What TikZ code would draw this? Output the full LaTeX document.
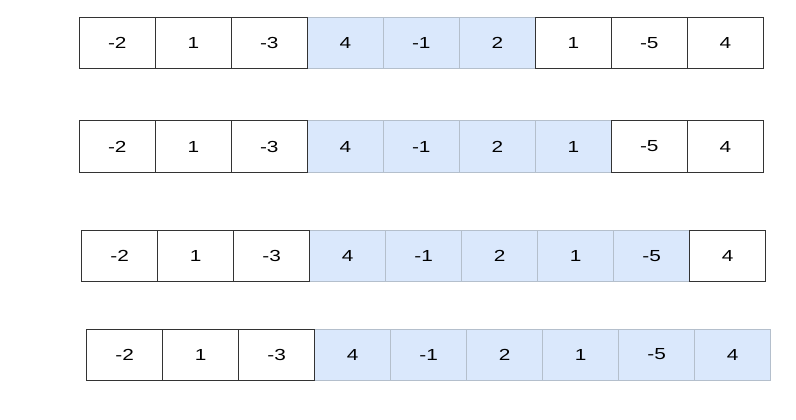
\documentclass[tikz,border=0pt]{standalone}
\usepackage{fontspec}
\setmainfont{Liberation Sans}
\newfontfamily\cellfont[FakeStretch=1.3]{Liberation Sans}
\definecolor{cellblue}{HTML}{DAE8FC}
\definecolor{celledge}{HTML}{333333}
\definecolor{bluedge}{HTML}{B4BFCC}
\tikzset{
  cell/.style={minimum width=76pt, minimum height=51pt, inner sep=0pt,
    font=\cellfont\fontsize{16}{19}\selectfont, line width=1pt},
  plaincell/.style={cell, draw=celledge, fill=white},
  bluecell/.style={cell, draw=bluedge, fill=cellblue}
}

\begin{document}
\begin{tikzpicture}[x=1pt,y=-1pt]

  \useasboundingbox (0,0) rectangle (796,420);

  % one array per row: left edge / top edge / last shaded cell
  \foreach \r/\lx/\ty/\last in {1/79.3/17.3/6, 2/79.3/121/7, 3/81.7/230.7/8, 4/86.7/329/9} {

    % shaded subarray
    \foreach \v [count=\i] in {-2,1,-3,4,-1,2,1,-5,4} {
      \ifnum\i>3 \ifnum\i>\last\else
        \node[bluecell] (c\r-\i) at (\lx+76*\i-38, \ty+25.5) {\v};
      \fi\fi
    }

    % remaining cells
    \foreach \v [count=\i] in {-2,1,-3,4,-1,2,1,-5,4} {
      \ifnum\i<4
        \node[plaincell] (c\r-\i) at (\lx+76*\i-38, \ty+25.5) {\v};
      \else\ifnum\i>\last
        \node[plaincell] (c\r-\i) at (\lx+76*\i-38, \ty+25.5) {\v};
      \fi\fi
    }
  }

\end{tikzpicture}
\end{document}
